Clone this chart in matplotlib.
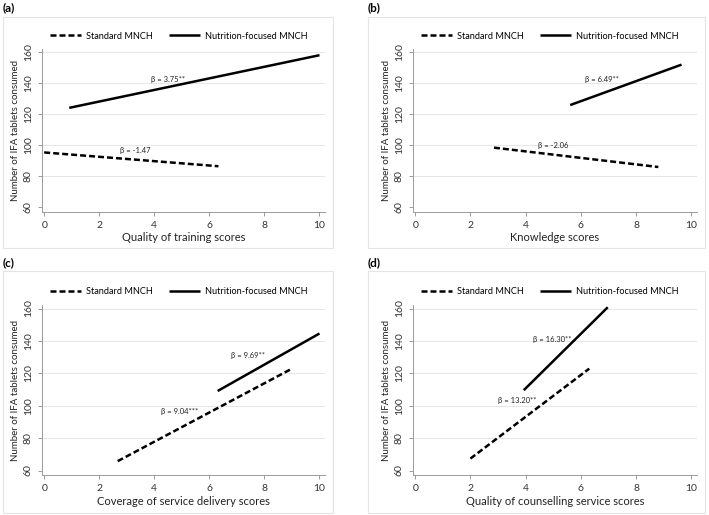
import matplotlib
matplotlib.use("Agg")
import matplotlib.pyplot as plt
from matplotlib.patches import Rectangle

plt.rcParams['font.family'] = ['Lato', 'DejaVu Sans']

# ---- data ----
panel_tags = ["(a)", "(b)", "(c)", "(d)"]
x_titles = ["Quality of training scores", "Knowledge scores",
            "Coverage of service delivery scores",
            "Quality of counselling service scores"]

std_x = [[0.0, 6.33], [2.85, 8.8], [2.67, 9.0], [2.0, 6.3]]
std_y = [[95.2, 86.3], [98.3, 85.8], [65.8, 122.9], [67.4, 122.9]]
nut_x = [[0.91, 10.0], [5.61, 9.64], [6.3, 10.0], [3.93, 6.97]]
nut_y = [[124.0, 158.0], [125.8, 151.9], [109.1, 144.6], [109.6, 160.8]]

std_beta = ["β = -1.47", "β = -2.06", "β = 9.04***", "β = 13.20**"]
std_beta_xy = [(3.3, 96.4), (5.0, 99.6), (4.92, 96.4), (3.69, 103.0)]
nut_beta = ["β = 3.75**", "β = 6.49**", "β = 9.69**", "β = 16.30**"]
nut_beta_xy = [(4.5, 142.5), (6.75, 142.0), (7.42, 131.3), (4.95, 140.9)]

x_ticks = [0, 2, 4, 6, 8, 10]
y_ticks = [60, 80, 100, 120, 140, 160]

W, H = 709, 515
# axes boxes in pixels: left, top, right, bottom
ax_px = [(42, 49, 325, 211.6), (413, 49, 697, 211.6),
         (42, 305.3, 325, 475.4), (413, 305.3, 697, 475.4)]
box_px = [(3, 17, 333, 248), (368, 17, 705, 248),
          (3, 271, 333, 513), (368, 271, 705, 513)]
tag_px = [(3, 8), (368, 8), (3, 263), (368, 263)]
legend_px = [(50, 36), (421, 36), (50, 292), (421, 292)]

fig = plt.figure(figsize=(W / 100, H / 100), dpi=100)
grey = "#9a9a9a"

for i in range(4):
	bx0, by0, bx1, by1 = box_px[i]
	fig.patches.append(Rectangle((bx0 / W, 1 - by1 / H), (bx1 - bx0) / W, (by1 - by0) / H,
	                             transform=fig.transFigure, fill=False,
	                             edgecolor="#e4e4e4", linewidth=0.8))
	fig.text(tag_px[i][0] / W, 1 - tag_px[i][1] / H, panel_tags[i], fontsize=8.5,
	         fontweight="bold", va="center", ha="left")

	l, t, r, b = ax_px[i]
	ax = fig.add_axes([l / W, 1 - b / H, (r - l) / W, (b - t) / H])
	ax.set_xlim(-0.08, 10.2)
	ax.set_ylim(57, 162)
	ax.set_xticks(x_ticks)
	ax.set_yticks(y_ticks)
	for y in y_ticks[1:]:
		ax.axhline(y, color="#e6e6e6", linewidth=0.7, zorder=0)
	for s in ["top", "right"]:
		ax.spines[s].set_visible(False)
	for s in ["left", "bottom"]:
		ax.spines[s].set_color(grey)
		ax.spines[s].set_linewidth(0.7)
	ax.tick_params(colors=grey, labelcolor="#333333", labelsize=7.5, length=3, width=0.7)
	for lab in ax.get_yticklabels():
		lab.set_rotation(90)
		lab.set_va("center")

	ax.plot(std_x[i], std_y[i], color="black", linewidth=1.8, linestyle=(0, (2.4, 1.2)),
	        solid_capstyle="butt", dash_capstyle="butt", label="Standard MNCH")
	ax.plot(nut_x[i], nut_y[i], color="black", linewidth=1.8, solid_capstyle="butt",
	        label="Nutrition-focused MNCH")
	ax.text(*std_beta_xy[i], std_beta[i], fontsize=5.5, ha="center", va="center", color="#222222")
	ax.text(*nut_beta_xy[i], nut_beta[i], fontsize=5.5, ha="center", va="center", color="#222222")

	ax.set_xlabel(x_titles[i], fontsize=8, color="#222222", labelpad=2)
	ax.set_ylabel("Number of IFA tablets consumed", fontsize=7, color="#222222", labelpad=3)
	lx, ly = legend_px[i]
	ax.legend(loc="center left", bbox_to_anchor=(lx / W, 1 - ly / H),
	          bbox_transform=fig.transFigure, ncol=2, frameon=False,
	          fontsize=6.6, handlelength=3.4, columnspacing=1.8, handletextpad=0.5,
	          borderaxespad=0, borderpad=0)

fig.savefig("out.png", dpi=100)
